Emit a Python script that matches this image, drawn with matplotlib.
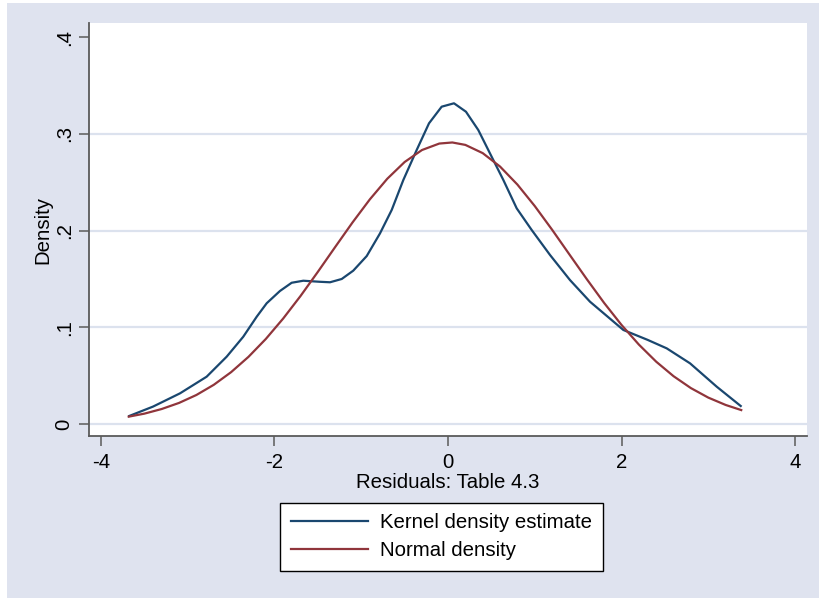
import matplotlib
matplotlib.use("Agg")
import matplotlib.pyplot as plt
from matplotlib.patches import Rectangle
from matplotlib.ticker import FixedLocator, FixedFormatter

# Kernel density estimate of the residuals
kde_x = [-3.674, -3.40, -3.089, -2.782, -2.551, -2.360, -2.205, -2.090, -1.937,
         -1.802, -1.668, -1.476, -1.360, -1.225, -1.092, -0.937, -0.784, -0.649,
         -0.515, -0.361, -0.219, -0.073, 0.069, 0.207, 0.349, 0.522, 0.638,
         0.792, 0.965, 1.176, 1.406, 1.637, 2.021, 2.300, 2.521, 2.790, 3.097, 3.374]
kde_y = [0.0083, 0.0180, 0.0317, 0.0489, 0.0696, 0.0902, 0.1109, 0.1248, 0.1375,
         0.1460, 0.1481, 0.1470, 0.1465, 0.1499, 0.1585, 0.1736, 0.1970, 0.2212,
         0.2522, 0.2832, 0.3108, 0.3280, 0.3315, 0.3228, 0.3039, 0.2729, 0.2522,
         0.2229, 0.2005, 0.1747, 0.1488, 0.1264, 0.0972, 0.0870, 0.0782, 0.0627,
         0.0386, 0.0186]

# Normal density with the residuals' mean and standard deviation
norm_x = [-3.68, -3.50, -3.30, -3.10, -2.90, -2.70, -2.50, -2.30, -2.10, -1.90,
          -1.70, -1.50, -1.30, -1.10, -0.90, -0.70, -0.50, -0.30, -0.10, 0.05,
          0.20, 0.40, 0.60, 0.80, 1.00, 1.20, 1.40, 1.60, 1.80, 2.00, 2.20,
          2.40, 2.60, 2.80, 3.00, 3.20, 3.38]
norm_y = [0.0076, 0.0107, 0.0155, 0.0218, 0.0300, 0.0405, 0.0536, 0.0694, 0.0879,
          0.1090, 0.1323, 0.1573, 0.1830, 0.2084, 0.2323, 0.2535, 0.2708, 0.2832,
          0.2899, 0.2910, 0.2885, 0.2800, 0.2661, 0.2475, 0.2253, 0.2008, 0.1752,
          0.1497, 0.1251, 0.1024, 0.0821, 0.0644, 0.0494, 0.0371, 0.0273, 0.0197,
          0.0144]

x_ticks = [-4, -2, 0, 2, 4]
x_tick_labels = ["-4", "-2", "0", "2", "4"]
y_ticks = [0, 0.1, 0.2, 0.3, 0.4]
y_tick_labels = ["0", ".1", ".2", ".3", ".4"]
grid_levels = [0, 0.1, 0.2, 0.3]

series_labels = ["Kernel density estimate", "Normal density"]
x_title = "Residuals: Table 4.3"
y_title = "Density"

NAVY = "#1A476F"
MAROON = "#90353B"
REGION = "#DFE3EF"
GRID = "#DCE2EE"
AXIS = "#5A5A5A"

plt.rcParams["font.family"] = ["Liberation Sans", "DejaVu Sans"]
FS = 14.7

W, H = 820, 598
fig = plt.figure(figsize=(W / 100, H / 100), dpi=100)
fig.patch.set_facecolor("white")
fig.patches.append(Rectangle((7 / W, 0), 1 - 7 / W, 1 - 3 / H,
                             transform=fig.transFigure, facecolor=REGION,
                             edgecolor="none", zorder=-10))

left, right, top, bottom = 89, 807, 23, 436
ax = fig.add_axes([left / W, 1 - bottom / H, (right - left) / W, (bottom - top) / H])
ax.set_facecolor("white")

ax.set_xlim(-4.138, 4.138)
ax.set_ylim(-0.0124, 0.4145)

for g in grid_levels:
    ax.axhline(g, color=GRID, lw=1.6, zorder=1)

ax.plot(kde_x, kde_y, color=NAVY, lw=1.6, label=series_labels[0], zorder=3,
        solid_joinstyle="round")
ax.plot(norm_x, norm_y, color=MAROON, lw=1.6, label=series_labels[1], zorder=3,
        solid_joinstyle="round")

for s in ["top", "right"]:
    ax.spines[s].set_visible(False)
for s in ["left", "bottom"]:
    ax.spines[s].set_color(AXIS)
    ax.spines[s].set_linewidth(1.3)

ax.xaxis.set_major_locator(FixedLocator(x_ticks))
ax.xaxis.set_major_formatter(FixedFormatter(x_tick_labels))
ax.yaxis.set_major_locator(FixedLocator(y_ticks))
ax.yaxis.set_major_formatter(FixedFormatter(y_tick_labels))
ax.tick_params(axis="both", colors=AXIS, length=7, width=1.1, labelsize=FS,
               labelcolor="black")
ax.tick_params(axis="x", pad=5)
ax.tick_params(axis="y", pad=4)
for lbl in ax.get_yticklabels():
    lbl.set_rotation(90)
    lbl.set_va("center")

ax.set_xlabel(x_title, fontsize=FS, labelpad=1)
ax.set_ylabel(y_title, fontsize=FS, labelpad=2)

leg = ax.legend(loc="upper center", bbox_to_anchor=(441.5 / W, 1 - 503 / H),
                bbox_transform=fig.transFigure, fontsize=FS, frameon=True,
                fancybox=False, edgecolor="black", framealpha=1,
                handlelength=3.8, handletextpad=0.6, labelspacing=0.45,
                borderpad=0.5, borderaxespad=0)
leg.get_frame().set_linewidth(1.0)

fig.savefig("out.png", dpi=100, facecolor=fig.get_facecolor())
